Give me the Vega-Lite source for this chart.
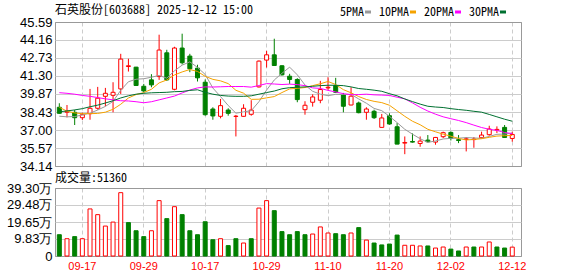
{
  "$schema": "https://vega.github.io/schema/vega-lite/v6.json",
  "background": "white",
  "padding": {"left": 5, "top": 3, "right": 0, "bottom": 0},
  "bounds": "flush",
  "spacing": 22,
  "config": {
    "view": {"stroke": "#999999", "strokeWidth": 1},
    "axis": {"ticks": false, "domain": false, "labelFont": "Liberation Sans", "labelFontSize": 13, "labelColor": "#000000", "gridColor": "#cccccc", "gridWidth": 1, "labelPadding": 3, "labelOverlap": false, "tickCount": 30},
    "axisX": {"gridDash": [4, 3], "gridColor": "#cccccc"}
  },
  "resolve": {"scale": {"x": "independent", "y": "independent"}},
  "datasets": {
    "k": [
      {"d":"09-12","o":38.81,"c":38.33,"h":39.13,"l":38.30,"dir":"dn","v":12.3,"vd":"dn","5PMA":38.10,"10PMA":38.81,"20PMA":39.97,"30PMA":38.45},
      {"d":"09-15","o":38.42,"c":38.50,"h":38.99,"l":38.01,"dir":"up","v":10.0,"vd":"up","5PMA":38.05,"10PMA":38.50,"20PMA":39.92,"30PMA":38.52},
      {"d":"09-16","o":38.41,"c":37.98,"h":38.60,"l":37.40,"dir":"dn","v":11.2,"vd":"dn","5PMA":38.07,"10PMA":38.36,"20PMA":39.85,"30PMA":38.60},
      {"d":"09-17","o":37.98,"c":38.22,"h":38.38,"l":37.80,"dir":"up","v":10.0,"vd":"up","5PMA":38.20,"10PMA":38.30,"20PMA":39.75,"30PMA":38.70},
      {"d":"09-18","o":38.30,"c":38.73,"h":40.27,"l":37.82,"dir":"up","v":27.2,"vd":"up","5PMA":38.35,"10PMA":38.30,"20PMA":39.68,"30PMA":38.85},
      {"d":"09-19","o":38.73,"c":39.53,"h":40.43,"l":38.62,"dir":"up","v":23.9,"vd":"up","5PMA":38.59,"10PMA":38.32,"20PMA":39.58,"30PMA":38.98},
      {"d":"09-22","o":39.68,"c":39.92,"h":40.35,"l":38.89,"dir":"up","v":17.3,"vd":"up","5PMA":38.88,"10PMA":38.42,"20PMA":39.48,"30PMA":39.15},
      {"d":"09-23","o":39.76,"c":40.00,"h":40.80,"l":38.41,"dir":"up","v":19.6,"vd":"up","5PMA":39.28,"10PMA":38.65,"20PMA":39.40,"30PMA":39.33},
      {"d":"09-24","o":40.27,"c":42.64,"h":43.06,"l":39.87,"dir":"up","v":36.6,"vd":"up","5PMA":40.16,"10PMA":39.05,"20PMA":39.33,"30PMA":39.55},
      {"d":"09-25","o":42.05,"c":42.11,"h":42.67,"l":41.65,"dir":"up","v":19.3,"vd":"dn","5PMA":40.84,"10PMA":39.55,"20PMA":39.31,"30PMA":39.72},
      {"d":"09-26","o":42.00,"c":40.54,"h":42.02,"l":40.50,"dir":"dn","v":14.6,"vd":"dn","5PMA":41.04,"10PMA":39.82,"20PMA":39.25,"30PMA":39.85},
      {"d":"09-29","o":40.48,"c":40.11,"h":40.67,"l":40.00,"dir":"dn","v":11.2,"vd":"dn","5PMA":41.08,"10PMA":39.98,"20PMA":39.17,"30PMA":39.92},
      {"d":"09-30","o":40.99,"c":40.59,"h":41.44,"l":40.40,"dir":"dn","v":14.6,"vd":"up","5PMA":41.20,"10PMA":40.24,"20PMA":39.25,"30PMA":39.96},
      {"d":"10-09","o":41.25,"c":43.36,"h":44.58,"l":40.99,"dir":"up","v":32.0,"vd":"up","5PMA":41.34,"10PMA":40.75,"20PMA":39.40,"30PMA":39.98},
      {"d":"10-10","o":43.14,"c":40.99,"h":43.38,"l":40.90,"dir":"dn","v":21.6,"vd":"dn","5PMA":41.12,"10PMA":40.98,"20PMA":39.55,"30PMA":40.00},
      {"d":"10-13","o":40.24,"c":43.52,"h":43.62,"l":40.16,"dir":"up","v":28.5,"vd":"up","5PMA":41.71,"10PMA":41.38,"20PMA":39.70,"30PMA":40.05},
      {"d":"10-14","o":43.52,"c":42.35,"h":44.66,"l":42.21,"dir":"dn","v":23.9,"vd":"dn","5PMA":42.16,"10PMA":41.62,"20PMA":39.95,"30PMA":40.07},
      {"d":"10-15","o":42.88,"c":41.87,"h":43.06,"l":41.60,"dir":"dn","v":14.6,"vd":"dn","5PMA":42.42,"10PMA":41.81,"20PMA":40.18,"30PMA":40.15},
      {"d":"10-16","o":41.92,"c":41.15,"h":42.19,"l":40.86,"dir":"dn","v":12.3,"vd":"dn","5PMA":41.98,"10PMA":41.66,"20PMA":40.35,"30PMA":40.20},
      {"d":"10-17","o":40.80,"c":38.22,"h":41.02,"l":38.14,"dir":"dn","v":19.8,"vd":"dn","5PMA":41.42,"10PMA":41.27,"20PMA":40.43,"30PMA":40.00},
      {"d":"10-20","o":38.67,"c":38.12,"h":38.81,"l":37.82,"dir":"dn","v":9.4,"vd":"dn","5PMA":40.34,"10PMA":41.03,"20PMA":40.42,"30PMA":39.85},
      {"d":"10-21","o":38.09,"c":38.94,"h":39.47,"l":37.93,"dir":"up","v":10.0,"vd":"up","5PMA":39.66,"10PMA":40.91,"20PMA":40.44,"30PMA":39.75},
      {"d":"10-22","o":38.59,"c":38.33,"h":38.73,"l":38.14,"dir":"dn","v":6.0,"vd":"dn","5PMA":38.95,"10PMA":40.69,"20PMA":40.46,"30PMA":39.70},
      {"d":"10-23","o":38.08,"c":38.10,"h":38.20,"l":36.49,"dir":"up","v":10.0,"vd":"dn","5PMA":38.34,"10PMA":40.16,"20PMA":40.46,"30PMA":39.68},
      {"d":"10-24","o":38.09,"c":38.73,"h":39.05,"l":38.06,"dir":"up","v":7.5,"vd":"up","5PMA":38.44,"10PMA":39.93,"20PMA":40.46,"30PMA":39.68},
      {"d":"10-27","o":38.25,"c":38.59,"h":39.37,"l":38.14,"dir":"up","v":10.0,"vd":"dn","5PMA":38.54,"10PMA":39.44,"20PMA":40.41,"30PMA":39.72},
      {"d":"10-28","o":40.43,"c":42.48,"h":42.53,"l":40.38,"dir":"up","v":27.7,"vd":"up","5PMA":39.25,"10PMA":39.45,"20PMA":40.54,"30PMA":39.85},
      {"d":"10-29","o":42.56,"c":42.98,"h":43.30,"l":41.97,"dir":"up","v":32.0,"vd":"up","5PMA":40.18,"10PMA":39.56,"20PMA":40.69,"30PMA":39.98},
      {"d":"10-30","o":42.98,"c":42.13,"h":44.26,"l":42.10,"dir":"dn","v":26.2,"vd":"dn","5PMA":40.98,"10PMA":39.66,"20PMA":40.66,"30PMA":40.10},
      {"d":"10-31","o":42.11,"c":41.39,"h":42.15,"l":41.33,"dir":"dn","v":14.1,"vd":"dn","5PMA":41.51,"10PMA":39.98,"20PMA":40.62,"30PMA":40.28},
      {"d":"11-03","o":41.28,"c":41.02,"h":41.47,"l":40.67,"dir":"dn","v":12.3,"vd":"dn","5PMA":42.00,"10PMA":40.27,"20PMA":40.65,"30PMA":40.37},
      {"d":"11-04","o":41.02,"c":39.42,"h":41.12,"l":39.21,"dir":"dn","v":14.1,"vd":"dn","5PMA":41.39,"10PMA":40.32,"20PMA":40.61,"30PMA":40.40},
      {"d":"11-05","o":38.62,"c":38.97,"h":39.29,"l":38.22,"dir":"up","v":12.3,"vd":"dn","5PMA":40.58,"10PMA":40.38,"20PMA":40.53,"30PMA":40.43},
      {"d":"11-06","o":39.21,"c":39.63,"h":39.84,"l":38.86,"dir":"up","v":12.7,"vd":"up","5PMA":40.08,"10PMA":40.53,"20PMA":40.35,"30PMA":40.48},
      {"d":"11-07","o":39.37,"c":40.22,"h":40.91,"l":39.13,"dir":"up","v":16.8,"vd":"up","5PMA":39.85,"10PMA":40.68,"20PMA":40.31,"30PMA":40.53},
      {"d":"11-10","o":40.35,"c":40.40,"h":41.20,"l":40.19,"dir":"up","v":13.3,"vd":"up","5PMA":39.73,"10PMA":40.86,"20PMA":40.15,"30PMA":40.56},
      {"d":"11-11","o":40.54,"c":40.00,"h":41.15,"l":39.95,"dir":"dn","v":12.9,"vd":"dn","5PMA":39.84,"10PMA":40.62,"20PMA":40.03,"30PMA":40.56},
      {"d":"11-12","o":39.79,"c":38.89,"h":39.95,"l":38.41,"dir":"dn","v":12.3,"vd":"dn","5PMA":39.83,"10PMA":40.21,"20PMA":39.89,"30PMA":40.53},
      {"d":"11-13","o":38.99,"c":39.69,"h":40.40,"l":38.97,"dir":"up","v":13.3,"vd":"up","5PMA":39.84,"10PMA":39.96,"20PMA":39.81,"30PMA":40.43},
      {"d":"11-14","o":39.15,"c":38.38,"h":39.26,"l":38.33,"dir":"dn","v":16.4,"vd":"dn","5PMA":39.47,"10PMA":39.66,"20PMA":39.82,"30PMA":40.30},
      {"d":"11-17","o":38.41,"c":38.67,"h":38.81,"l":37.82,"dir":"up","v":9.2,"vd":"up","5PMA":39.13,"10PMA":39.43,"20PMA":39.85,"30PMA":40.24},
      {"d":"11-18","o":38.49,"c":37.98,"h":38.62,"l":37.88,"dir":"dn","v":7.5,"vd":"dn","5PMA":38.72,"10PMA":39.28,"20PMA":39.80,"30PMA":40.17},
      {"d":"11-19","o":37.21,"c":37.96,"h":38.28,"l":37.21,"dir":"up","v":6.4,"vd":"dn","5PMA":38.54,"10PMA":39.18,"20PMA":39.78,"30PMA":40.08},
      {"d":"11-20","o":38.14,"c":37.48,"h":38.33,"l":37.42,"dir":"dn","v":6.9,"vd":"dn","5PMA":38.09,"10PMA":38.97,"20PMA":39.75,"30PMA":39.89},
      {"d":"11-21","o":37.26,"c":35.88,"h":37.56,"l":35.88,"dir":"dn","v":12.1,"vd":"dn","5PMA":37.59,"10PMA":38.53,"20PMA":39.61,"30PMA":39.72},
      {"d":"11-24","o":35.96,"c":36.01,"h":36.49,"l":35.08,"dir":"up","v":6.2,"vd":"up","5PMA":37.06,"10PMA":38.09,"20PMA":39.48,"30PMA":39.47},
      {"d":"11-25","o":36.09,"c":36.04,"h":36.73,"l":36.00,"dir":"dn","v":6.2,"vd":"up","5PMA":36.67,"10PMA":37.70,"20PMA":39.16,"30PMA":39.26},
      {"d":"11-26","o":35.93,"c":36.12,"h":36.49,"l":35.67,"dir":"up","v":5.8,"vd":"up","5PMA":36.31,"10PMA":37.42,"20PMA":38.81,"30PMA":39.06},
      {"d":"11-27","o":36.20,"c":36.07,"h":36.60,"l":36.01,"dir":"dn","v":5.8,"vd":"dn","5PMA":36.02,"10PMA":37.06,"20PMA":38.51,"30PMA":38.89},
      {"d":"11-28","o":36.04,"c":36.41,"h":36.45,"l":35.83,"dir":"up","v":4.6,"vd":"up","5PMA":36.13,"10PMA":36.86,"20PMA":38.26,"30PMA":38.83},
      {"d":"12-01","o":36.47,"c":36.79,"h":36.87,"l":36.36,"dir":"up","v":5.2,"vd":"up","5PMA":36.29,"10PMA":36.67,"20PMA":38.05,"30PMA":38.79},
      {"d":"12-02","o":36.81,"c":36.33,"h":36.89,"l":36.17,"dir":"dn","v":4.0,"vd":"dn","5PMA":36.34,"10PMA":36.51,"20PMA":37.90,"30PMA":38.70},
      {"d":"12-03","o":36.23,"c":36.17,"h":36.60,"l":35.96,"dir":"dn","v":2.9,"vd":"dn","5PMA":36.35,"10PMA":36.33,"20PMA":37.76,"30PMA":38.63},
      {"d":"12-04","o":36.25,"c":36.30,"h":36.44,"l":35.30,"dir":"up","v":5.2,"vd":"up","5PMA":36.40,"10PMA":36.21,"20PMA":37.59,"30PMA":38.57},
      {"d":"12-05","o":36.24,"c":36.28,"h":36.44,"l":35.59,"dir":"up","v":5.2,"vd":"dn","5PMA":36.37,"10PMA":36.25,"20PMA":37.39,"30PMA":38.49},
      {"d":"12-08","o":36.39,"c":36.60,"h":36.87,"l":36.33,"dir":"up","v":5.2,"vd":"up","5PMA":36.34,"10PMA":36.31,"20PMA":37.20,"30PMA":38.42},
      {"d":"12-09","o":36.63,"c":37.08,"h":37.34,"l":36.55,"dir":"up","v":8.1,"vd":"up","5PMA":36.49,"10PMA":36.42,"20PMA":37.06,"30PMA":38.24},
      {"d":"12-10","o":37.00,"c":37.05,"h":37.29,"l":36.76,"dir":"up","v":5.2,"vd":"dn","5PMA":36.66,"10PMA":36.52,"20PMA":36.97,"30PMA":38.05},
      {"d":"12-11","o":37.21,"c":36.41,"h":37.40,"l":36.39,"dir":"dn","v":4.6,"vd":"dn","5PMA":36.68,"10PMA":36.55,"20PMA":36.80,"30PMA":37.86},
      {"d":"12-12","o":36.33,"c":36.65,"h":36.87,"l":36.07,"dir":"up","v":5.136,"vd":"up","5PMA":36.76,"10PMA":36.57,"20PMA":36.72,"30PMA":37.70}
    ]
  },
  "vconcat": [
    {
      "width": 466,
      "height": 144,
      "data": {"name": "k"},
      "title": {"text": "石英股份[603688] 2025-12-12 15:00", "anchor": "start", "frame": "group", "orient": "top", "offset": 7, "dy": 17, "baseline": "alphabetic", "font": "Noto Sans Mono CJK SC, Noto Sans CJK SC, monospace", "fontSize": 12, "fontWeight": "normal", "color": "#000000"},
      "encoding": {
        "x": {"field": "d", "type": "ordinal", "title": null,
          "scale": {"domain": ["09-12","09-15","09-16","09-17","09-18","09-19","09-22","09-23","09-24","09-25","09-26","09-29","09-30","10-09","10-10","10-13","10-14","10-15","10-16","10-17","10-20","10-21","10-22","10-23","10-24","10-27","10-28","10-29","10-30","10-31","11-03","11-04","11-05","11-06","11-07","11-10","11-11","11-12","11-13","11-14","11-17","11-18","11-19","11-20","11-21","11-24","11-25","11-26","11-27","11-28","12-01","12-02","12-03","12-04","12-05","12-08","12-09","12-10","12-11","12-12"], "paddingInner": 0, "paddingOuter": 0.35, "align": 0.09},
          "axis": {"values": ["09-17","09-29","10-17","10-29","11-10","11-20","12-02","12-12"], "labels": false, "grid": true}
        }
      },
      "layer": [
        {
          "transform": [{"filter": {"field": "dir", "equal": "up"}}],
          "mark": {"type": "rule", "color": "#ff0000", "strokeWidth": 1},
          "encoding": {
            "y": {"field": "l", "type": "quantitative", "title": null,
              "scale": {"domain": [34.14, 45.59], "zero": false, "nice": false},
              "axis": {"values": [34.14, 35.57, 37.0, 38.43, 39.87, 41.3, 42.73, 44.16, 45.59], "format": ".2f", "tickCount": 30, "labelOverlap": false,
                "gridColor": {"condition": {"test": "datum.value == 45.59 || datum.value == 34.14", "value": "#999999"}, "value": "#cccccc"}}},
            "y2": {"field": "h"}
          }
        },
        {
          "transform": [{"filter": {"field": "dir", "equal": "up"}}],
          "mark": {"type": "bar", "size": 4, "fill": "#ffffff", "stroke": "#ff0000", "strokeWidth": 1},
          "encoding": {"y": {"field": "o", "type": "quantitative", "title": null}, "y2": {"field": "c"}}
        },
        {
          "transform": [{"filter": {"field": "dir", "equal": "dn"}}],
          "mark": {"type": "rule", "color": "#008000", "strokeWidth": 1},
          "encoding": {"y": {"field": "l", "type": "quantitative", "title": null}, "y2": {"field": "h"}}
        },
        {
          "transform": [{"filter": {"field": "dir", "equal": "dn"}}],
          "mark": {"type": "bar", "size": 4, "fill": "#008000", "stroke": "#008000", "strokeWidth": 1},
          "encoding": {"y": {"field": "o", "type": "quantitative", "title": null}, "y2": {"field": "c"}}
        },
        {
          "transform": [{"fold": ["5PMA", "10PMA", "20PMA", "30PMA"], "as": ["k", "val"]}],
          "mark": {"type": "line", "strokeWidth": 1},
          "encoding": {
            "y": {"field": "val", "type": "quantitative", "title": null},
            "color": {"field": "k", "type": "nominal",
              "scale": {"domain": ["5PMA", "10PMA", "20PMA", "30PMA"], "range": ["#999999", "#f5a200", "#ff00ff", "#007030"]},
              "legend": {"orient": "none", "legendX": 307, "legendY": -16, "direction": "horizontal", "title": null,
                "symbolType": "stroke", "symbolSize": 36, "symbolStrokeWidth": 3, "labelAlign": "right", "labelOffset": -10,
                "labelFont": "Noto Sans Mono CJK SC, Noto Sans CJK SC, monospace", "labelFontSize": 12, "labelColor": "#000000", "columnPadding": 1, "padding": 0}
            }
          }
        }
      ]
    },
    {
      "width": 466,
      "height": 68,
      "data": {"name": "k"},
      "title": {"text": "成交量:51360", "anchor": "start", "frame": "group", "orient": "top", "offset": 6, "dy": 17.5, "baseline": "alphabetic", "font": "Noto Sans Mono CJK SC, Noto Sans CJK SC, monospace", "fontSize": 12, "fontWeight": "normal", "color": "#000000"},
      "encoding": {
        "x": {"field": "d", "type": "ordinal", "title": null,
          "scale": {"domain": ["09-12","09-15","09-16","09-17","09-18","09-19","09-22","09-23","09-24","09-25","09-26","09-29","09-30","10-09","10-10","10-13","10-14","10-15","10-16","10-17","10-20","10-21","10-22","10-23","10-24","10-27","10-28","10-29","10-30","10-31","11-03","11-04","11-05","11-06","11-07","11-10","11-11","11-12","11-13","11-14","11-17","11-18","11-19","11-20","11-21","11-24","11-25","11-26","11-27","11-28","12-01","12-02","12-03","12-04","12-05","12-08","12-09","12-10","12-11","12-12"], "paddingInner": 0, "paddingOuter": 0.35, "align": 0.09},
          "axis": {"values": ["09-17","09-29","10-17","10-29","11-10","11-20","12-02","12-12"], "grid": true, "labelColor": "#ff0000", "labelFont": "Liberation Sans", "labelFontSize": 11, "labelPadding": 4, "labelAngle": 0}
        }
      },
      "layer": [
        {
          "transform": [{"filter": {"field": "vd", "equal": "up"}}],
          "mark": {"type": "bar", "size": 4, "fill": "#ffffff", "stroke": "#ff0000", "strokeWidth": 1},
          "encoding": {
            "y": {"field": "v", "type": "quantitative", "title": null,
              "scale": {"domain": [0, 39.3], "nice": false},
              "axis": {"values": [0, 9.83, 19.65, 29.48, 39.3], "tickCount": 30, "labelOverlap": false, "labelExpr": "datum.value == 0 ? '0' : format(datum.value, '.2f') + '万'",
                "gridColor": {"condition": {"test": "datum.value == 0 || datum.value == 39.3", "value": "#999999"}, "value": "#cccccc"}}}
          }
        },
        {
          "transform": [{"filter": {"field": "vd", "equal": "dn"}}],
          "mark": {"type": "bar", "size": 4, "fill": "#008000", "stroke": "#008000", "strokeWidth": 1},
          "encoding": {"y": {"field": "v", "type": "quantitative", "title": null}}
        }
      ]
    }
  ]
}
